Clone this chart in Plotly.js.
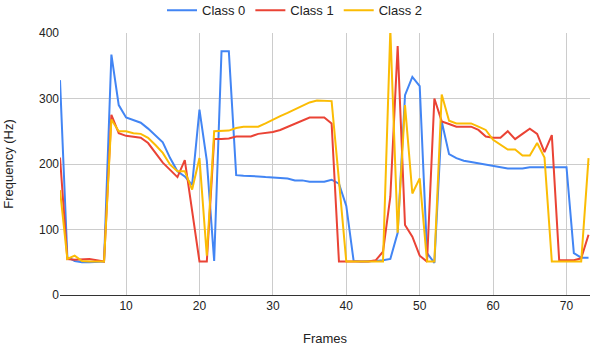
<!DOCTYPE html>
<html>
<head>
<meta charset="utf-8">
<script src="https://cdn.plot.ly/plotly-3.0.1.min.js"></script>
<style>
  body { margin: 0; background: #fff; }
  #chart { width: 590px; height: 346px; }
</style>
</head>
<body>
<div id="chart"></div>
<script>
// frame numbers (x axis)
var frames = [1, 2, 3, 4, 5, 6, 7, 8, 9, 10, 11, 12, 13, 14, 15, 16, 17, 18, 19, 20,
  21, 22, 23, 24, 25, 26, 27, 28, 29, 30, 31, 32, 33, 34, 35, 36, 37, 38, 39, 40,
  41, 42, 43, 44, 45, 46, 47, 48, 49, 50, 51, 52, 53, 54, 55, 56, 57, 58, 59, 60,
  61, 62, 63, 64, 65, 66, 67, 68, 69, 70, 71, 72, 73];

// frequency per frame (Hz)
var class0 = [328, 58, 52, 50, 50, 51, 51, 367, 290, 271, 267, 263, 254, 244, 233, 209, 189, 181, 168, 283,
  205, 52, 372, 372, 183, 182, 182, 181, 180, 179, 179, 178, 175, 175, 173, 173, 173, 176, 170, 136,
  52, 51, 51, 52, 53, 55, 95, 305, 333, 319, 64, 49, 265, 215, 209, 205, 203, 201, 200, 197,
  195, 193, 193, 193, 195, 195, 195, 195, 195, 195, 64, 57, 57];

var class1 = [210, 55, 54, 54, 55, 53, 51, 275, 247, 243, 242, 240, 232, 217, 202, 191, 180, 206, 130, 51,
  51, 238, 238, 239, 242, 242, 242, 246, 247, 249, 252, 257, 262, 267, 271, 271, 271, 262, 51, 51,
  51, 51, 51, 53, 66, 150, 380, 107, 89, 60, 51, 300, 265, 261, 257, 257, 257, 252, 242, 240,
  240, 250, 238, 246, 254, 246, 218, 244, 53, 53, 53, 56, 92];

var class2 = [160, 55, 60, 52, 51, 51, 51, 268, 250, 250, 247, 246, 240, 229, 217, 199, 189, 189, 161, 209,
  60, 250, 250, 251, 255, 257, 257, 257, 262, 268, 273, 278, 283, 288, 294, 297, 297, 296, 175, 51,
  51, 51, 51, 51, 51, 405, 95, 290, 155, 178, 51, 51, 306, 266, 262, 262, 262, 257, 252, 237,
  229, 222, 222, 213, 213, 232, 210, 51, 51, 51, 51, 51, 209];

var seriesNames = ['Class 0', 'Class 1', 'Class 2'];
var seriesColors = ['#4285f4', '#ea4335', '#fbbc04'];
var seriesData = [class0, class1, class2];

var traces = [];
for (var i = 0; i < seriesData.length; i++) {
  traces.push({
    x: frames,
    y: seriesData[i],
    mode: 'lines',
    name: seriesNames[i],
    line: { color: seriesColors[i], width: 2 }
  });
}

var layout = {
  width: 590,
  height: 346,
  margin: { l: 60, r: 0, t: 33, b: 51 },
  paper_bgcolor: '#fff',
  plot_bgcolor: '#fff',
  font: { family: 'Liberation Sans, Arial, sans-serif', size: 12, color: '#222' },
  showlegend: true,
  legend: {
    orientation: 'h',
    xref: 'container',
    yref: 'container',
    x: 0.5,
    xanchor: 'center',
    y: 0.97,
    yanchor: 'middle',
    font: { size: 13, color: '#222' }
  },
  xaxis: {
    range: [1, 73.2],
    tick0: 0,
    dtick: 10,
    showgrid: true,
    gridcolor: '#cccccc',
    zeroline: false,
    showline: true,
    linecolor: '#333',
    linewidth: 1,
    ticks: '',
    tickfont: { size: 12, color: '#222' },
    title: { text: 'Frames', font: { size: 13, color: '#222' }, standoff: 23 }
  },
  yaxis: {
    range: [0, 400],
    dtick: 100,
    showgrid: true,
    gridcolor: '#cccccc',
    zeroline: false,
    showline: false,
    ticks: '',
    tickfont: { size: 12, color: '#222' },
    title: { text: 'Frequency (Hz)', font: { size: 13, color: '#222' }, standoff: 22 }
  }
};

Plotly.newPlot('chart', traces, layout, { staticPlot: true, displayModeBar: false });
</script>
</body>
</html>
